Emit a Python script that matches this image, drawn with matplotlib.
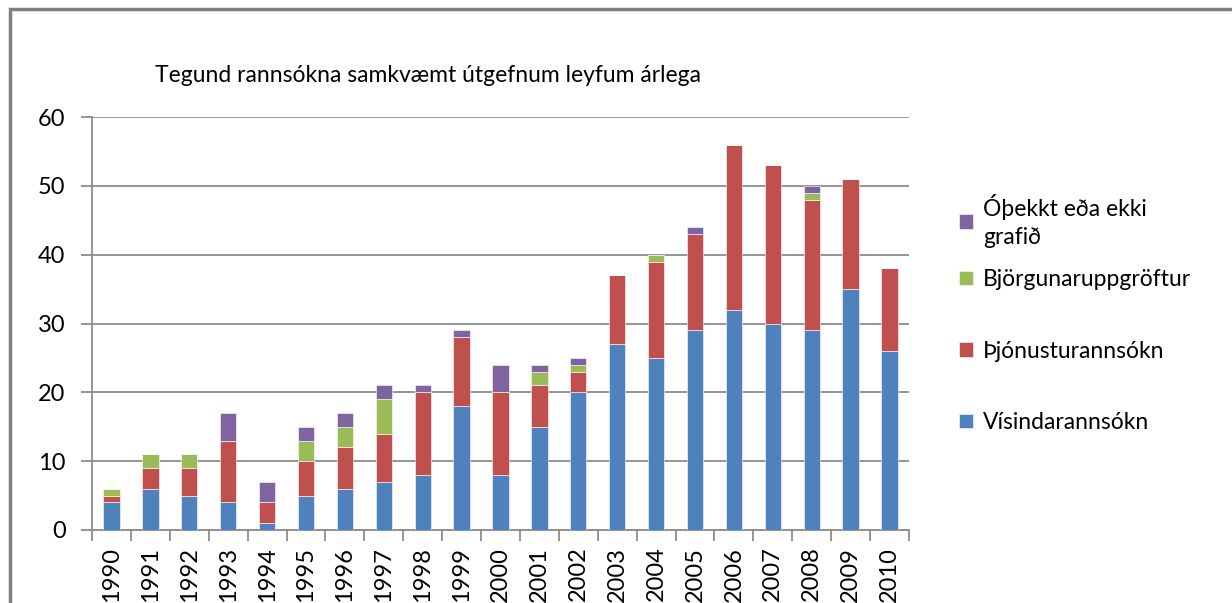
import matplotlib.pyplot as plt
import numpy as np
from matplotlib.patches import Rectangle

plt.rcParams['font.family'] = ['Lato', 'DejaVu Sans']

ar = [str(a) for a in range(1990, 2011)]
visinda = [4, 6, 5, 4, 1, 5, 6, 7, 8, 18, 8, 15, 20, 27, 25, 29, 32, 30, 29, 35, 26]
thjonustu = [1, 3, 4, 9, 3, 5, 6, 7, 12, 10, 12, 6, 3, 10, 14, 14, 24, 23, 19, 16, 12]
bjorgunar = [1, 2, 2, 0, 0, 3, 3, 5, 0, 0, 0, 2, 1, 0, 1, 0, 0, 0, 1, 0, 0]
othekkt = [0, 0, 0, 4, 3, 2, 2, 2, 1, 1, 4, 1, 1, 0, 0, 1, 0, 0, 1, 0, 0]

reidir = [
    ("Vísindarannsókn", visinda, "#4F81BD"),
    ("Þjónusturannsókn", thjonustu, "#C0504D"),
    ("Björgunaruppgröftur", bjorgunar, "#9BBB59"),
    ("Óþekkt eða ekki\ngrafið", othekkt, "#8064A2"),
]

fig = plt.figure(figsize=(12.32, 6.03), dpi=100)
ax = fig.add_axes([92/1232, 73/603, 817/1232, 413/603])

# ramminn utan um grafið
fig.patches.append(Rectangle((10/1232, -0.1), 1.2, (603-9)/603 + 0.1,
                             transform=fig.transFigure, fill=False,
                             edgecolor="#7f7f7f", linewidth=2.5))

x = np.arange(len(ar))
botn = np.zeros(len(ar))
handles = []
for nafn, gildi, litur in reidir:
    h = ax.bar(x, gildi, 0.42, bottom=botn, color=litur, label=nafn,
               edgecolor="white", linewidth=0.4, zorder=3)
    handles.append(h)
    botn += np.array(gildi)

ax.set_xlim(-0.5, len(ar) - 0.5)
ax.set_ylim(0, 60)
ax.set_yticks(range(0, 61, 10))
ax.yaxis.grid(True, color="#8c8c8c", linewidth=1.3, zorder=0)
ax.set_axisbelow(True)

ax.set_xticks(x)
ax.set_xticklabels(ar, rotation=90, fontsize=17)
ax.tick_params(axis='x', length=0, pad=12)
ax.set_xticks(np.arange(-0.5, len(ar), 1), minor=True)
ax.tick_params(axis='x', which='minor', length=8, color="#8c8c8c", width=1.3)
ax.tick_params(axis='y', labelsize=17, length=8, color="#8c8c8c", width=1.3, pad=11)

for s in ['top', 'right']:
    ax.spines[s].set_visible(False)
for s in ['left', 'bottom']:
    ax.spines[s].set_color("#8c8c8c")
    ax.spines[s].set_linewidth(1.3)

fig.text(155/1232, 1 - 75/603, "Tegund rannsókna samkvæmt útgefnum leyfum árlega",
         fontsize=16.5, va='center', ha='left')

# skýringar: fyrsta línan sér, svo hinar þrjár
leg1 = fig.legend([handles[3]], [reidir[3][0]], loc='center left',
                  bbox_to_anchor=(959/1232, 1 - 221/603), frameon=False, fontsize=16.5,
                  handlelength=0.6, handleheight=0.6, handletextpad=0.45,
                  borderpad=0, borderaxespad=0)
leg1.get_texts()[0].set_linespacing(1.45)
fig.legend(handles[2::-1], [r[0] for r in reidir[2::-1]], loc='center left',
           bbox_to_anchor=(959/1232, 1 - 351/603), frameon=False, fontsize=16.5,
           handlelength=0.6, handleheight=0.6, handletextpad=0.45, labelspacing=2.2,
           borderpad=0, borderaxespad=0)

fig.savefig("out.png", dpi=100)
